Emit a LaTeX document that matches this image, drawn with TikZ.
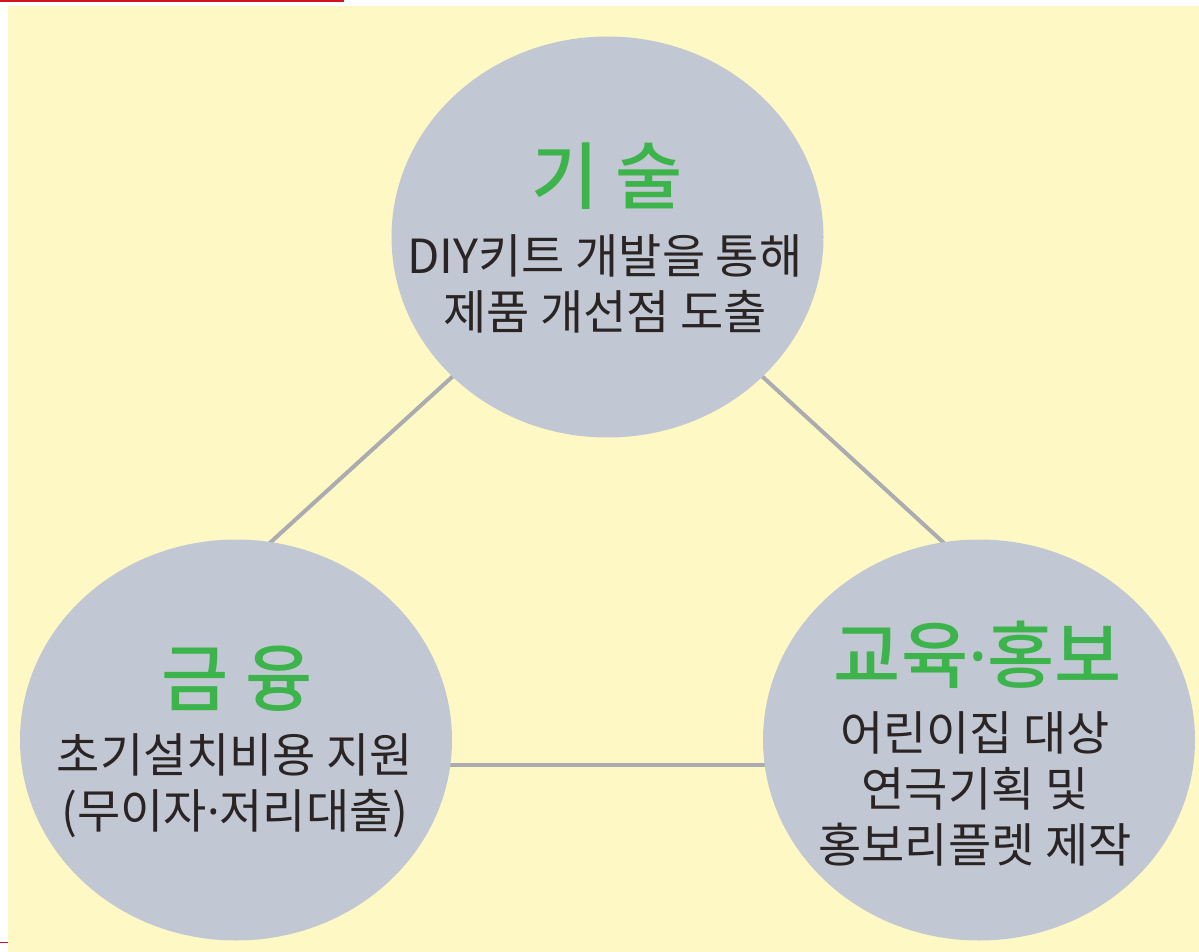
\documentclass[tikz,border=0pt]{standalone}
\usepackage{fontspec}
\usetikzlibrary{shapes.geometric}
\newfontfamily\kr{Noto Sans CJK KR}
\newfontfamily\krmed{Noto Sans CJK KR Medium}
\newfontfamily\latinsans{Noto Sans}
\newcommand{\narrowdot}{{\latinsans ·}}
\definecolor{bgyellow}{HTML}{FEF9C4}
\definecolor{bubblegray}{HTML}{C2C8D3}
\definecolor{linkgray}{HTML}{AAACB2}
\definecolor{titlegreen}{HTML}{3CB44B}
\definecolor{bodyink}{HTML}{2A2424}
\definecolor{edgered}{HTML}{D2141E}
\tikzset{
  bubble/.style={ellipse, fill=bubblegray, draw=none, minimum width=432pt, minimum height=401pt, inner sep=0pt},
  link/.style={draw=linkgray, line width=4pt},
  titletext/.style={font=\krmed\fontsize{73}{78}\selectfont, text=titlegreen, inner sep=0pt, align=center},
  bodytext/.style={font=\kr\fontsize{47}{56}\selectfont, text=bodyink, inner sep=0pt, align=center}
}
\begin{document}
\begin{tikzpicture}[x=1pt,y=-1pt]
\useasboundingbox (0,0) rectangle (1199,952);
\fill[white] (0,0) rectangle (1199,952);
\fill[bgyellow] (8,6) rectangle (1199,952);
\fill[edgered] (0,0) rectangle (344,1.6);
\fill[edgered] (0,941.5) rectangle (8,943);
% triangle of connectors behind the circles
\coordinate (apex) at (608,235);
\coordinate (left) at (26,765);
\coordinate (right) at (1186,765);
\draw[link] (apex) -- (left);
\draw[link] (left) -- (right);
\draw[link] (right) -- (apex);
% circles
\node[bubble] (tech) at (607.5,237) {};
\node[bubble] (fin) at (236,740) {};
\node[bubble] (edu) at (979,740) {};
% texts
\node[titletext] (techT) at (607,176) {기 술};
\node[bodytext] (techB) at (605,284) {DIY키트 개발을 통해\\제품 개선점 도출};
\node[titletext] (finT) at (237,679) {금 융};
\node[bodytext] (finB) at (235,786) {초기설치비용 지원\\(무이자\narrowdot 저리대출)};
\node[titletext] (eduT) at (978,655) {교육\narrowdot 홍보};
\node[bodytext] (eduB) at (975,789) {어린이집 대상\\연극기획 및\\홍보리플렛 제작};
\end{tikzpicture}
\end{document}
